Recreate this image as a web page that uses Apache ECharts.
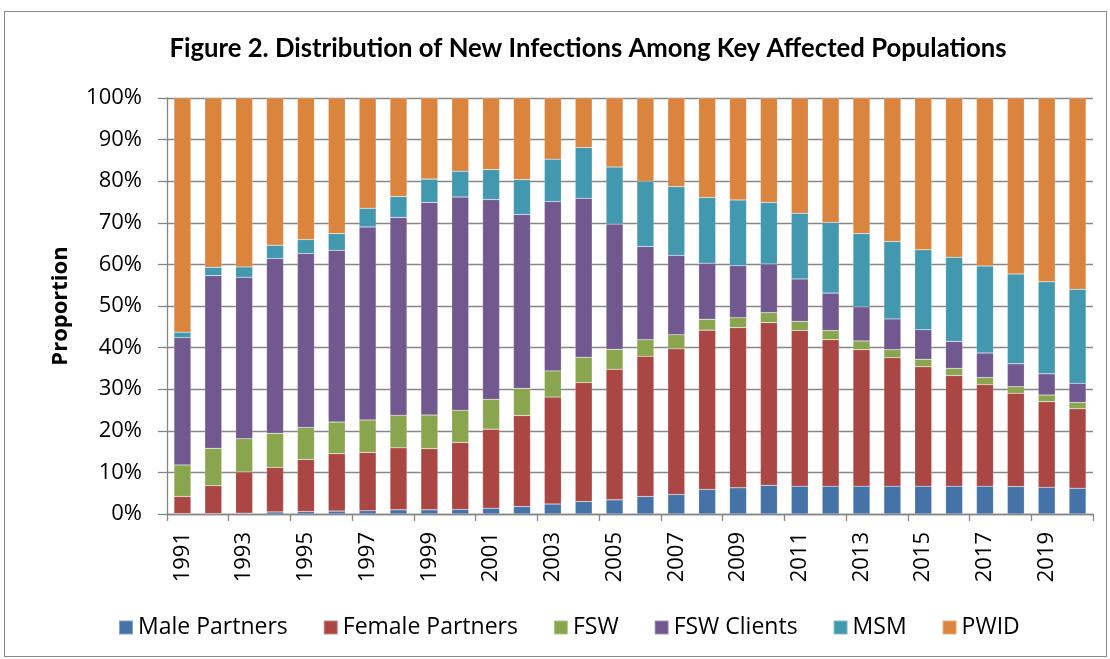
<!DOCTYPE html>
<html>
<head>
<meta charset="utf-8">
<title>Figure 2</title>
<script src="https://cdn.jsdelivr.net/npm/echarts@6/dist/echarts.min.js"></script>
<style>
  html, body { margin: 0; padding: 0; background: #fff; }
  #frame {
    position: absolute; left: 4px; top: 11px; width: 1103px; height: 646px;
    border: 1px solid #8a8a8a; box-sizing: border-box;
  }
  #chart { position: absolute; left: 0; top: 0; width: 1110px; height: 659px; }
</style>
</head>
<body>
<div id="frame"></div>
<div id="chart"></div>
<script>
  var years = ['1991', '1992', '1993', '1994', '1995', '1996', '1997', '1998', '1999', '2000',
    '2001', '2002', '2003', '2004', '2005', '2006', '2007', '2008', '2009', '2010',
    '2011', '2012', '2013', '2014', '2015', '2016', '2017', '2018', '2019', '2020']

  // shares in percent
  var malePartners = [0.1, 0.1, 0.2, 0.5, 0.6, 0.7, 0.8, 1.0, 1.0, 1.1,
    1.4, 1.8, 2.4, 3.0, 3.4, 4.2, 4.7, 5.9, 6.3, 6.9,
    6.7, 6.7, 6.7, 6.7, 6.7, 6.7, 6.7, 6.6, 6.4, 6.2]
  var femalePartners = [4.1, 6.7, 9.9, 10.7, 12.5, 13.8, 14.0, 14.9, 14.7, 16.1,
    19.0, 21.9, 25.7, 28.6, 31.4, 33.7, 35.0, 38.3, 38.5, 39.1,
    37.4, 35.2, 32.8, 30.9, 28.7, 26.6, 24.4, 22.4, 20.6, 19.1]
  var fsw = [7.6, 9.0, 8.0, 8.2, 7.7, 7.6, 7.8, 7.8, 8.1, 7.7,
    7.2, 6.5, 6.3, 6.1, 4.8, 4.0, 3.4, 2.6, 2.4, 2.4,
    2.2, 2.2, 2.1, 1.9, 1.8, 1.7, 1.7, 1.6, 1.6, 1.5]
  var fswClients = [30.6, 41.5, 38.8, 42.0, 41.8, 41.3, 46.4, 47.6, 51.1, 51.3,
    48.0, 41.8, 40.7, 38.2, 30.1, 22.4, 19.1, 13.5, 12.5, 11.7,
    10.2, 9.0, 8.2, 7.4, 7.1, 6.5, 5.9, 5.5, 5.1, 4.6]
  var msm = [1.3, 2.0, 2.5, 3.2, 3.4, 4.0, 4.5, 5.0, 5.6, 6.2,
    7.2, 8.4, 10.2, 12.2, 13.7, 15.7, 16.5, 15.8, 15.8, 14.8,
    15.8, 17.0, 17.6, 18.6, 19.2, 20.2, 20.9, 21.6, 22.1, 22.6]
  var pwid = [56.3, 40.7, 40.6, 35.4, 34.0, 32.6, 26.5, 23.7, 19.5, 17.6,
    17.2, 19.6, 14.7, 11.9, 16.6, 20.0, 21.3, 23.9, 24.5, 25.1,
    27.7, 29.9, 32.6, 34.5, 36.5, 38.3, 40.4, 42.3, 44.2, 46.0]

  var seriesNames = ['Male Partners', 'Female Partners', 'FSW', 'FSW Clients', 'MSM', 'PWID']
  var seriesData = [malePartners, femalePartners, fsw, fswClients, msm, pwid]
  var colors = ['#4572A7', '#AA4643', '#89A54E', '#71588F', '#4198AF', '#DB843D']

  var labelFont = '"Open Sans", sans-serif'
  var titleFont = 'Lato, "Open Sans", sans-serif'

  var myChart = echarts.init(document.getElementById('chart'))

  var series = seriesNames.map(function (name, i) {
    return {
      name: name,
      type: 'bar',
      stack: 'total',
      barWidth: '55%',
      itemStyle: {
        color: colors[i],
        borderColor: 'rgba(255,255,255,0.35)',
        borderWidth: 0.5
      },
      data: seriesData[i]
    }
  })

  var option = {
    animation: false,
    color: colors,
    title: {
      text: 'Figure 2. Distribution of New Infections Among Key Affected Populations',
      left: 583,
      top: 31,
      textAlign: 'center',
      textStyle: {
        fontFamily: titleFont,
        fontWeight: 'bold',
        fontSize: 25.7,
        color: '#000'
      }
    },
    legend: {
      top: 611,
      left: 113,
      itemWidth: 14,
      itemHeight: 14,
      itemGap: 35,
      icon: 'rect',
      textStyle: { fontFamily: labelFont, fontSize: 23, color: '#000' },
      data: seriesNames
    },
    grid: {
      left: 167,
      right: 17,
      top: 98,
      bottom: 145
    },
    xAxis: {
      type: 'category',
      data: years,
      axisLine: { lineStyle: { color: '#868686', width: 1.3 } },
      axisTick: { show: true, length: 7, lineStyle: { color: '#868686', width: 1.3 } },
      axisLabel: {
        rotate: 90,
        interval: 1,
        margin: 18,
        fontFamily: labelFont,
        fontSize: 22,
        color: '#000'
      }
    },
    yAxis: {
      type: 'value',
      min: 0,
      max: 100,
      interval: 10,
      name: 'Proportion',
      nameLocation: 'middle',
      nameGap: 95,
      nameTextStyle: { fontFamily: labelFont, fontSize: 22, fontWeight: 'bold', color: '#000' },
      axisLine: { show: true, lineStyle: { color: '#868686', width: 1.3 } },
      axisTick: { show: true, length: 9, lineStyle: { color: '#868686', width: 1.3 } },
      splitLine: { lineStyle: { color: '#868686', width: 1.3 } },
      axisLabel: {
        formatter: '{value}%',
        margin: 25,
        fontFamily: labelFont,
        fontSize: 22,
        color: '#000'
      }
    },
    series: series
  }

  myChart.setOption(option)
</script>
</body>
</html>
